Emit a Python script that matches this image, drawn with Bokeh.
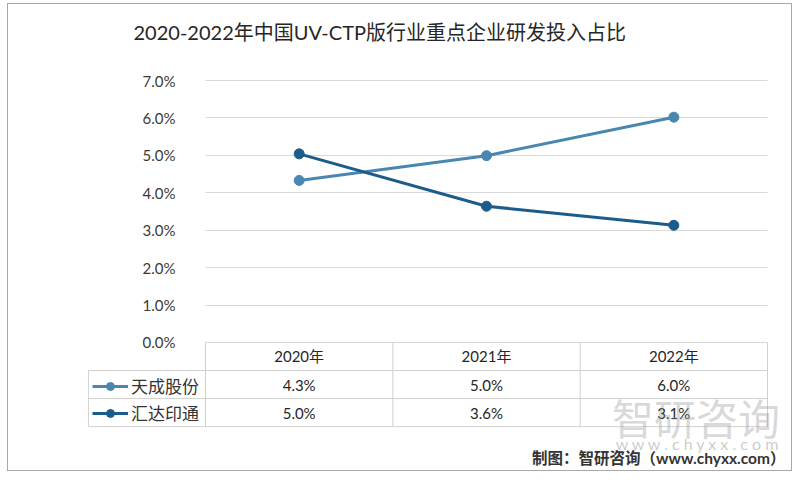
from bokeh.plotting import figure
from bokeh.models import (Range1d, FixedTicker, PrintfTickFormatter, Legend, LegendItem,
                          Label, ColumnDataSource)
from bokeh.core.properties import value
from bokeh.embed import file_html
from bokeh.resources import INLINE
import numpy as np

# ---------------- data ----------------
years = ["2020年", "2021年", "2022年"]
series_names = ["天成股份", "汇达印通"]
tiancheng = [4.33, 4.99, 6.02]
huida = [5.04, 3.64, 3.13]
tiancheng_labels = ["4.3%", "5.0%", "6.0%"]
huida_labels = ["5.0%", "3.6%", "3.1%"]
y_ticks = [0, 1, 2, 3, 4, 5, 6, 7]
colors = ["#4a87b0", "#1b5d8a"]

title_text = "2020-2022年中国UV-CTP版行业重点企业研发投入占比"
footer_text = "制图：智研咨询（www.chyxx.com）"
wm_text = "智研咨询"
wm_url = "w w w . c h y x x . c o m"

# ---------------- layout constants ----------------
n = len(years)
xc = np.arange(n) + 0.5          # category centres
row_h = 0.75                      # table row height in y units
label_col = -0.625                # left edge of the table label column
LAT = "Lato, Noto Sans CJK SC"
CJK = "Noto Sans CJK SC"

p = figure(width=785, height=468, output_backend="svg", toolbar_location=None,
           x_range=Range1d(-0.6299, 3.1228), y_range=Range1d(-3.4222, 8.8707),
           x_axis_location=None, min_border_left=79, min_border_right=3,
           min_border_top=6, min_border_bottom=2)
p.title.visible = False
p.outline_line_color = None
p.background_fill_color = "white"
p.border_fill_color = "white"
p.styles = {"border": "1px solid #a8a8a8", "margin-left": "7px", "margin-top": "3px"}

# y axis at the chart's left edge
ax = p.yaxis[0]
ax.fixed_location = 0
ax.ticker = FixedTicker(ticks=y_ticks)
ax.formatter = PrintfTickFormatter(format="%.1f%%")
ax.axis_line_color = None
ax.major_tick_line_color = None
ax.minor_tick_line_color = None
ax.major_label_standoff = 24
ax.major_label_text_font = LAT
ax.major_label_text_font_size = "15px"
ax.major_label_text_color = "#3a3a3a"

p.xgrid.visible = False
p.ygrid.grid_line_color = "#d9d9d9"
p.ygrid.ticker = FixedTicker(ticks=y_ticks)
try:
    p.ygrid.cross_bounds = (0, n)
except AttributeError:
    p.ygrid.visible = False
    p.segment(x0=0, x1=n, y0=y_ticks, y1=y_ticks, line_color="#d9d9d9", line_width=1)

# ---------------- table lines ----------------
tl = "#d0d0d0"
vx = list(range(n + 1))
p.segment(x0=vx, x1=vx, y0=0, y1=-3 * row_h, line_color=tl, line_width=1)
p.segment(x0=label_col, x1=label_col, y0=-row_h, y1=-3 * row_h, line_color=tl, line_width=1)
hy = [-row_h, -2 * row_h, -3 * row_h]
p.segment(x0=label_col, x1=n, y0=hy, y1=hy, line_color=tl, line_width=1)

# ---------------- watermark ----------------
p.add_layout(Label(x=2.17, y=-1.99, text=wm_text, text_font=CJK, text_font_size="42px",
                   text_color="#9c9c9c", text_alpha=0.4, text_baseline="middle"))
p.add_layout(Label(x=2.19, y=-2.70, text=wm_url, text_font=LAT, text_font_size="16px",
                   text_color="#a0a0a0", text_alpha=0.55, text_baseline="middle"))

# ---------------- series lines ----------------
items = []
for name, vals, col in zip(series_names, [tiancheng, huida], colors):
    src = ColumnDataSource(dict(x=xc, y=vals))
    r1 = p.line("x", "y", source=src, line_color=col, line_width=3)
    r2 = p.scatter("x", "y", source=src, size=10, fill_color=col, line_color=col)
    items.append(LegendItem(label=name, renderers=[r1, r2]))

# ---------------- table text ----------------
p.text(x=xc, y=[-0.5 * row_h] * n, text=years, text_align="center", text_baseline="middle",
       text_font=value(LAT), text_font_size="15px", text_color="#262626")
p.text(x=xc, y=[-1.5 * row_h] * n, text=tiancheng_labels, text_align="center",
       text_baseline="middle", text_font=value(LAT), text_font_size="15px", text_color="#262626")
p.text(x=xc, y=[-2.5 * row_h] * n, text=huida_labels, text_align="center",
       text_baseline="middle", text_font=value(LAT), text_font_size="15px", text_color="#262626")

legend = Legend(items=items, location=(5, 45), padding=0, margin=0, spacing=2,
                glyph_width=36, glyph_height=20, label_height=20, label_standoff=3,
                border_line_color=None, background_fill_alpha=0,
                label_text_font=CJK, label_text_font_size="17px", label_text_color="#333333")
p.add_layout(legend, "center")

# ---------------- title & footer ----------------
p.add_layout(Label(x=-0.3843, y=8.283, text=title_text, text_font=LAT, text_font_size="20px",
                   text_color="#262626", text_baseline="middle", text_align="left"))
p.add_layout(Label(x=3.0961, y=-3.101, text=footer_text, text_font=LAT, text_font_size="15.5px",
                   text_font_style="bold", text_color="#333333", text_baseline="middle",
                   text_align="right"))

open("out.html", "w").write(file_html(p, INLINE))
